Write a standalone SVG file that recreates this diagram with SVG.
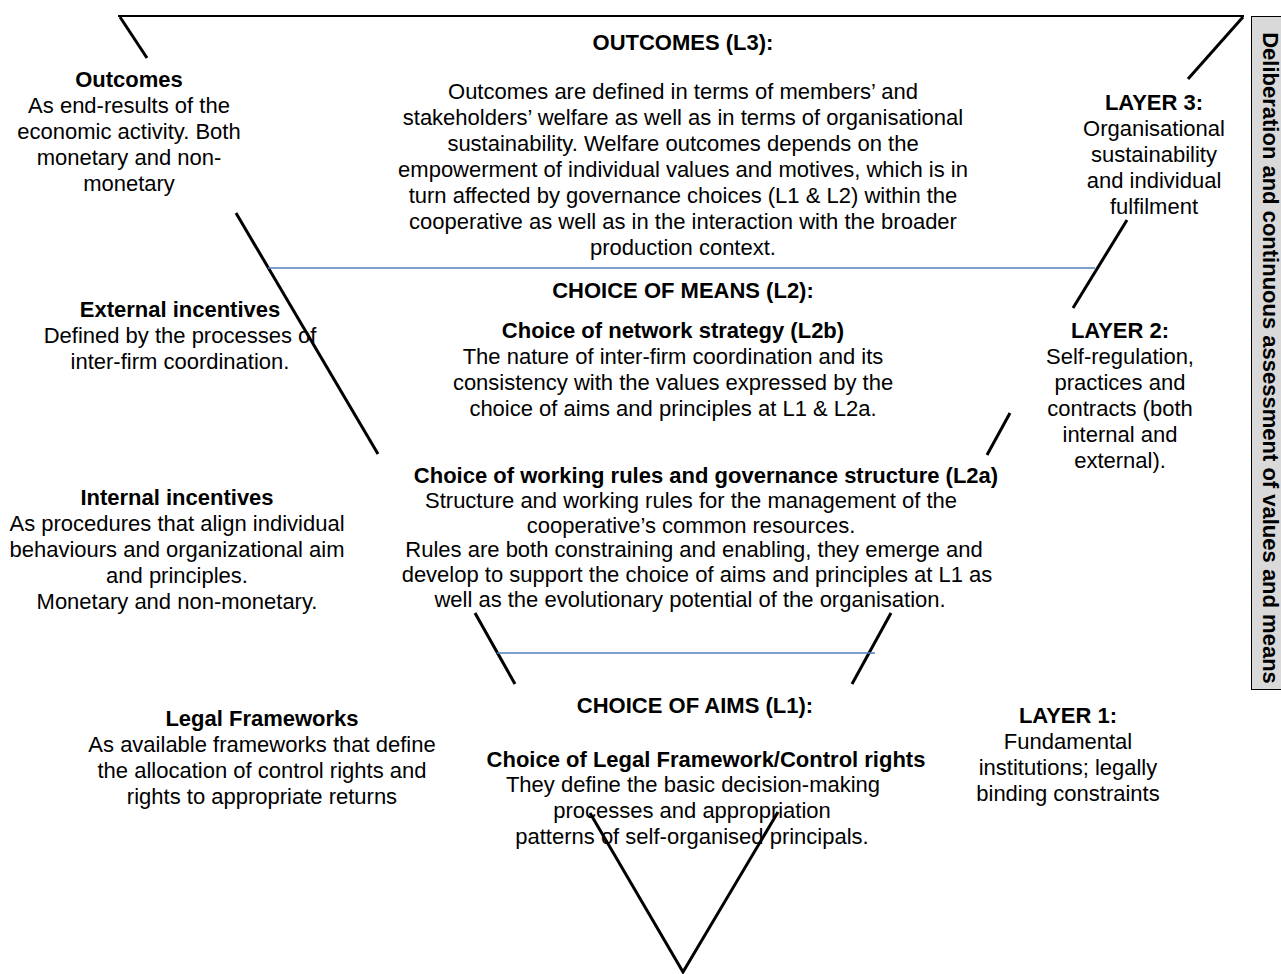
<svg xmlns="http://www.w3.org/2000/svg" width="1281" height="974" viewBox="0 0 1281 974">
<style>
text{font-family:"Liberation Sans",Arial,sans-serif;font-size:22px;fill:#000;text-anchor:middle}
.b{font-weight:bold}
.edge{stroke:#000;stroke-width:3;fill:none;stroke-linecap:butt}
.top{stroke:#000;stroke-width:2;fill:none}
.sep{stroke:#4f81bd;stroke-width:1.5;fill:none}
</style>
<rect width="1281" height="974" fill="#fff"/>
<g id="connectors">
<line class="top" x1="118" y1="16" x2="1244" y2="16"/>
<line class="edge" x1="120" y1="17" x2="147" y2="58"/>
<line class="edge" x1="1243" y1="17" x2="1188" y2="79"/>
<line class="edge" x1="236" y1="213" x2="378" y2="454"/>
<line class="edge" x1="1127" y1="220" x2="1073" y2="308"/>
<line class="edge" x1="1010" y1="413" x2="987" y2="455"/>
<line class="edge" x1="475" y1="613" x2="515" y2="684"/>
<line class="edge" x1="891" y1="613" x2="852" y2="684"/>
<polyline class="edge" points="590,813 683,972 778,812"/>
<line class="sep" x1="268" y1="268" x2="1095" y2="268"/>
<line class="sep" x1="497" y1="653" x2="875" y2="653"/>
</g>
<g id="sidebar">
<rect x="1251.5" y="16.5" width="40" height="673" fill="#d9d9d9" stroke="#000" stroke-width="1"/>
<text class="b" transform="translate(1263,358) rotate(90)">Deliberation and continuous assessment of values and means</text>
</g>
<g id="left-outcomes">
<text class="b" x="129" y="87">Outcomes</text>
<text x="129" y="113">As end-results of the</text>
<text x="129" y="139">economic activity. Both</text>
<text x="129" y="165">monetary and non-</text>
<text x="129" y="191">monetary</text>
</g>
<g id="left-external">
<text class="b" x="180" y="317">External incentives</text>
<text x="180" y="343">Defined by the processes of</text>
<text x="180" y="369">inter-firm coordination.</text>
</g>
<g id="left-internal">
<text class="b" x="177" y="505">Internal incentives</text>
<text x="177" y="531">As procedures that align individual</text>
<text x="177" y="557">behaviours and organizational aim</text>
<text x="177" y="583">and principles.</text>
<text x="177" y="609">Monetary and non-monetary.</text>
</g>
<g id="left-legal">
<text class="b" x="262" y="726">Legal Frameworks</text>
<text x="262" y="752">As available frameworks that define</text>
<text x="262" y="778">the allocation of control rights and</text>
<text x="262" y="804">rights to appropriate returns</text>
</g>
<g id="center-l3">
<text class="b" x="683" y="50">OUTCOMES (L3):</text>
<text x="683" y="99">Outcomes are defined in terms of members’ and</text>
<text x="683" y="125">stakeholders’ welfare as well as in terms of organisational</text>
<text x="683" y="151">sustainability. Welfare outcomes depends on the</text>
<text x="683" y="177">empowerment of individual values and motives, which is in</text>
<text x="683" y="203">turn affected by governance choices (L1 &amp; L2) within the</text>
<text x="683" y="229">cooperative as well as in the interaction with the broader</text>
<text x="683" y="255">production context.</text>
</g>
<g id="center-l2">
<text class="b" x="683" y="298">CHOICE OF MEANS (L2):</text>
<text class="b" x="673" y="338">Choice of network strategy (L2b)</text>
<text x="673" y="364">The nature of inter-firm coordination and its</text>
<text x="673" y="390">consistency with the values expressed by the</text>
<text x="673" y="416">choice of aims and principles at L1 &amp; L2a.</text>
</g>
<g id="center-l2a">
<text class="b" x="706" y="483">Choice of working rules and governance structure (L2a)</text>
<text x="691" y="508">Structure and working rules for the management of the</text>
<text x="691" y="533">cooperative’s common resources.</text>
<text x="694" y="557">Rules are both constraining and enabling, they emerge and</text>
<text x="697" y="582">develop to support the choice of aims and principles at L1 as</text>
<text x="690" y="607">well as the evolutionary potential of the organisation.</text>
</g>
<g id="center-l1">
<text class="b" x="695" y="713">CHOICE OF AIMS (L1):</text>
<text class="b" x="706" y="767">Choice of Legal Framework/Control rights</text>
<text x="693" y="792">They define the basic decision-making</text>
<text x="692" y="818">processes and appropriation</text>
<text x="692" y="844">patterns of self-organised principals.</text>
</g>
<g id="right-l3">
<text class="b" x="1154" y="110">LAYER 3:</text>
<text x="1154" y="136">Organisational</text>
<text x="1154" y="162">sustainability</text>
<text x="1154" y="188">and individual</text>
<text x="1154" y="214">fulfilment</text>
</g>
<g id="right-l2">
<text class="b" x="1120" y="338">LAYER 2:</text>
<text x="1120" y="364">Self-regulation,</text>
<text x="1120" y="390">practices and</text>
<text x="1120" y="416">contracts (both</text>
<text x="1120" y="442">internal and</text>
<text x="1120" y="468">external).</text>
</g>
<g id="right-l1">
<text class="b" x="1068" y="723">LAYER 1:</text>
<text x="1068" y="749">Fundamental</text>
<text x="1068" y="775">institutions; legally</text>
<text x="1068" y="801">binding constraints</text>
</g>
</svg>
